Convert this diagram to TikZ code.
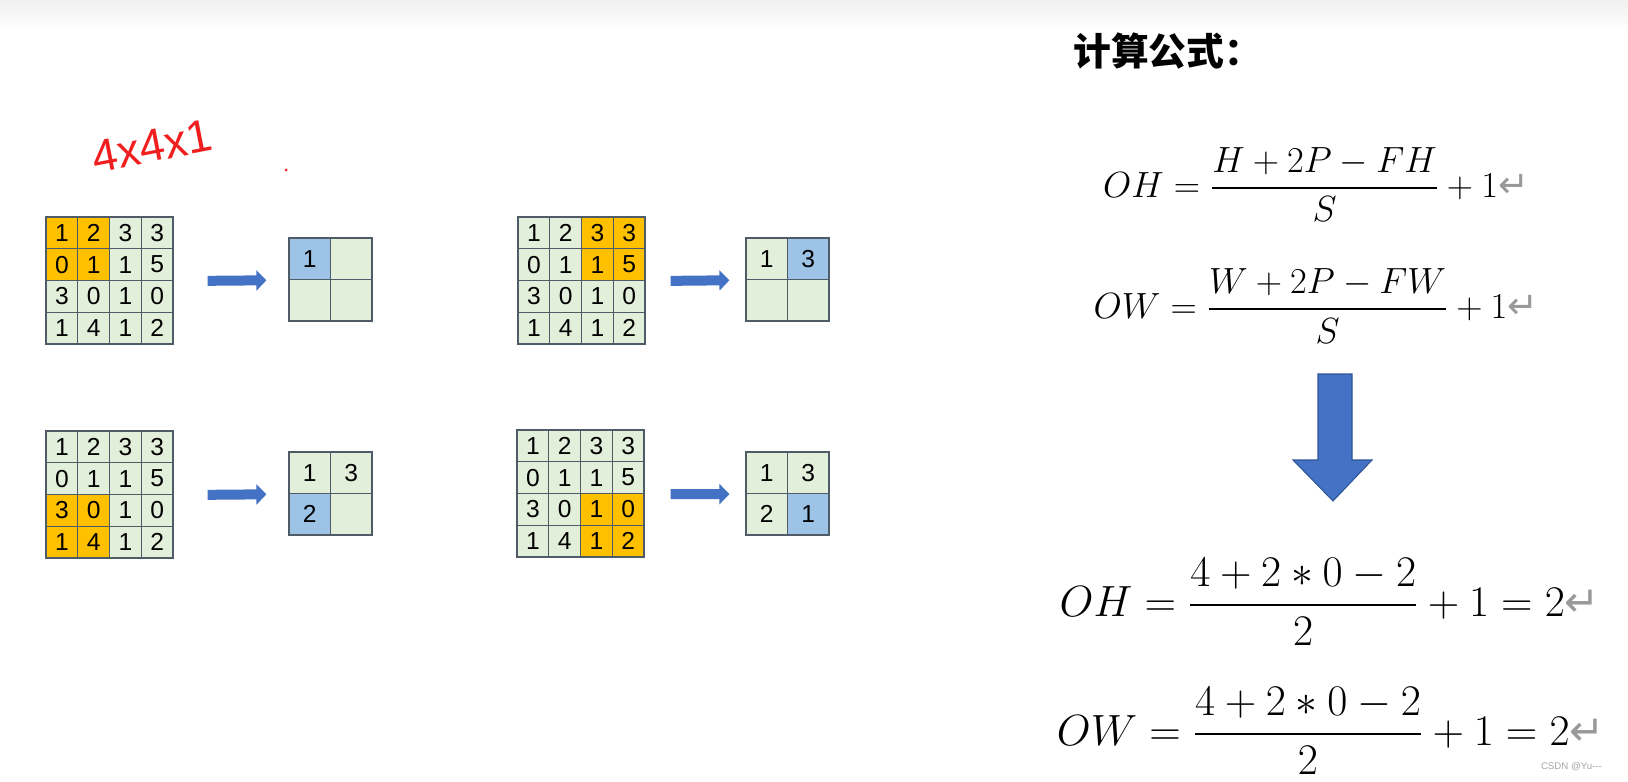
\documentclass[tikz,border=0pt]{standalone}
\usepackage{amsmath}
\usepackage{fontspec}
\usepackage{tikz}
\usetikzlibrary{arrows.meta,calc}
\newfontfamily\gridfont{Liberation Sans}
\newfontfamily\cjk{Noto Sans CJK SC}
\newfontfamily\symfont{DejaVu Sans}
\definecolor{cellgreen}{HTML}{E2EFDA}
\definecolor{winorange}{HTML}{FFC000}
\definecolor{outblue}{HTML}{9DC3E6}
\definecolor{gridline}{HTML}{4F5B66}
\definecolor{arrowblue}{HTML}{4472C4}
\definecolor{arrowedge}{HTML}{2F5597}
\definecolor{handred}{HTML}{F01E1E}
\newcommand{\retmark}{{\color{gray!80}\symfont ↵}}
\tikzset{
  incell/.style={draw=gridline,line width=0.7pt,inner sep=0pt,minimum size=0.635cm,font=\gridfont\fontsize{14}{16}\selectfont},
  outcell/.style={draw=gridline,line width=0.7pt,inner sep=0pt,minimum size=0.83cm,font=\gridfont\fontsize{14}{16}\selectfont},
  blockarrow/.style={arrowblue,line width=0.2cm,-{Triangle[length=0.2cm,width=0.4cm]}},
  formula/.style={anchor=base,inner sep=0pt,font=\fontsize{21}{25}\selectfont},
  valformula/.style={formula,font=\fontsize{24}{27}\selectfont}
}

\begin{document}
\begin{tikzpicture}[x=0.02cm,y=-0.02cm]
  \useasboundingbox (0,0) rectangle (1628,781);
  \shade[top color=black!6,bottom color=white] (0,0) rectangle (1628,30);
  % hand note
  \node[text=handred,rotate=11,font=\gridfont\fontsize{26}{30}\selectfont] (note) at (152,146) {4x4x1};
  \fill[handred] (286,170) circle (1.5);
  % four steps of the 2x2 window
  \foreach \k/\xi/\yi/\xo/\yo/\wr/\wc/\sa/\sb in {1/46/217/289/238/0/0/0.68/0.44,2/518/217/746/238/0/2/0.5/0.32,3/46/431/289/452/2/0/0.68/0.44,4/517/430/746/452/2/2/0.52/0.32} {
    \foreach [count=\r] \row in {{1,2,3,3},{0,1,1,5},{3,0,1,0},{1,4,1,2}} {
      \foreach [count=\c] \v in \row {
        \pgfmathtruncatemacro\hit{and(and(\r>\wr,\r<=\wr+2),and(\c>\wc,\c<=\wc+2))}
        \ifnum\hit=1 \def\fillc{winorange}\else\def\fillc{cellgreen}\fi
        \node[incell,fill=\fillc] (p\k-\r-\c) at (\xi+\c*31.75-15.875,\yi+\r*31.75-15.875) {\v};
      }
    }
    \foreach \i/\j/\n/\t in {1/1/1/1,1/2/2/3,2/1/3/2,2/2/4/1} {
      \ifnum\n>\k \def\txt{}\else\def\txt{\t}\fi
      \ifnum\n=\k \def\fillc{outblue}\else\def\fillc{cellgreen}\fi
      \node[outcell,fill=\fillc] (q\k-\i-\j) at (\xo+\j*41.5-20.75,\yo+\i*41.5-20.75) {\txt};
    }
    \draw[blockarrow,shorten <=\sa cm,shorten >=\sb cm] (p\k-2-4.south east) -- (q\k-1-1.south west);
  }
  % formulas
  \node[anchor=north west,inner sep=0pt,font=\cjk\bfseries\fontsize{21.5}{25}\selectfont] (title) at (1073,32) {计算公式：};
  \node[formula] (oh) at (1316,197) {$\displaystyle OH=\frac{H+2P-FH}{S}+1$\retmark};
  \node[formula] (ow) at (1316,318) {$\displaystyle OW=\frac{W+2P-FW}{S}+1$\retmark};
  \draw[fill=arrowblue,draw=arrowedge,line width=0.6pt] (1318,374) -- (1352,374) -- (1352,460) -- (1372,460) -- (1333,501) -- (1293,460) -- (1318,460) -- cycle;
  \node[valformula] (ohv) at (1330,616) {$\displaystyle OH=\frac{4+2*0-2}{2}+1=2$\retmark};
  \node[valformula] (owv) at (1331,745) {$\displaystyle OW=\frac{4+2*0-2}{2}+1=2$\retmark};
  \node[anchor=east,text=gray!70,font=\gridfont\fontsize{5.5}{6.5}\selectfont] (mark) at (1608,767) {CSDN @Yu---};
\end{tikzpicture}
\end{document}
